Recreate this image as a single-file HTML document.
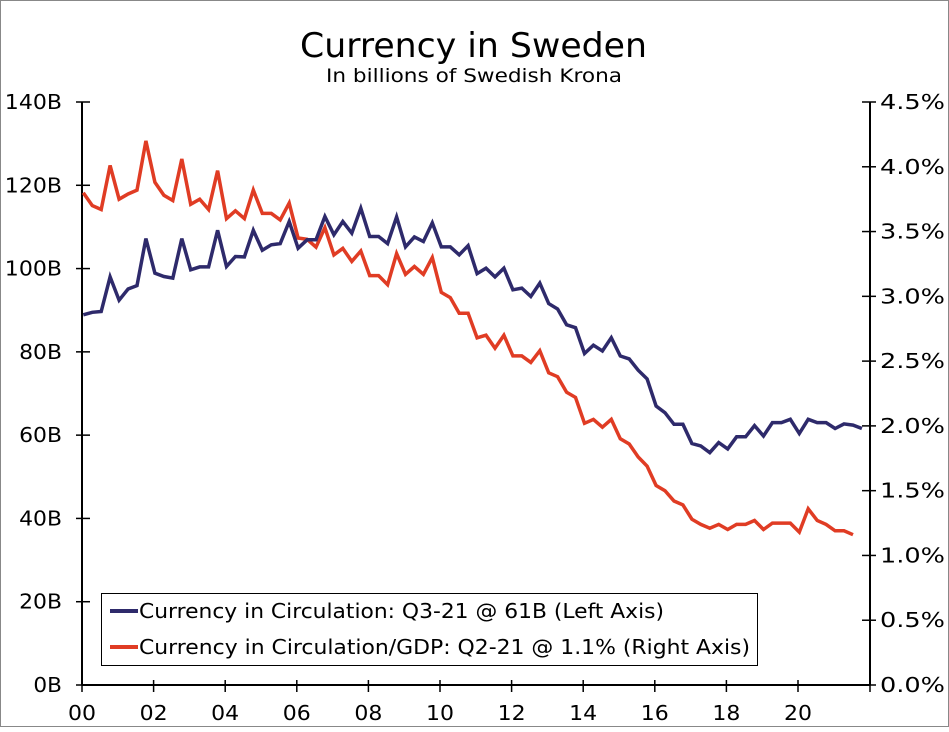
<!DOCTYPE html>
<html><head><meta charset="utf-8"><style>
html,body{margin:0;padding:0;background:#fff}
svg text{font-family:"DejaVu Sans","Liberation Sans",sans-serif;fill:#000}
</style></head><body>
<svg id="chart" width="949" height="727" viewBox="0 0 949 727">
<rect x="0.5" y="0.5" width="948" height="726" fill="#fff" stroke="#888"/>
<text x="300" y="57" font-size="34" textLength="347" lengthAdjust="spacingAndGlyphs">Currency in Sweden</text>
<text x="326" y="82" font-size="19" textLength="296" lengthAdjust="spacingAndGlyphs">In billions of Swedish Krona</text>
<g id="axes"></g>
<g id="series"></g>
<g>
<rect x="101.5" y="593.5" width="656" height="72" fill="#fff" stroke="#000"/>
<line x1="110" y1="611" x2="138" y2="611" stroke="#2e2a6b" stroke-width="4"/>
<text x="139" y="618" font-size="20" textLength="525" lengthAdjust="spacingAndGlyphs">Currency in Circulation: Q3-21 @ 61B (Left Axis)</text>
<line x1="110" y1="647" x2="138" y2="647" stroke="#e03c24" stroke-width="4"/>
<text x="139" y="654" font-size="20" textLength="611" lengthAdjust="spacingAndGlyphs">Currency in Circulation/GDP: Q2-21 @ 1.1% (Right Axis)</text>
</g>
</svg>
<script>
const leftTicks = [0,20,40,60,80,100,120,140];
const leftLabels = ["0B","20B","40B","60B","80B","100B","120B","140B"];
const rightTicks = [0,0.5,1,1.5,2,2.5,3,3.5,4,4.5];
const rightLabels = ["0.0%","0.5%","1.0%","1.5%","2.0%","2.5%","3.0%","3.5%","4.0%","4.5%"];
const yearTicks = [2000,2002,2004,2006,2008,2010,2012,2014,2016,2018,2020];
const yearLabels = ["00","02","04","06","08","10","12","14","16","18","20"];
const startYear = 2000;
const currency = [88.9,89.5,89.7,98.0,92.4,95.1,95.9,107.2,98.9,98.1,97.7,107.2,99.7,100.4,100.4,109.2,100.5,102.9,102.8,109.2,104.4,105.7,106,111.3,104.9,106.9,106.9,112.5,108.1,111.3,108.5,114.5,107.7,107.7,106,112.4,105.2,107.6,106.5,111.0,105.2,105.2,103.3,105.5,98.8,100.1,98.0,100.1,94.9,95.3,93.3,96.5,91.6,90.3,86.5,85.8,79.6,81.6,80.2,83.4,79.0,78.3,75.6,73.5,67.0,65.4,62.6,62.6,58.0,57.4,55.8,58.2,56.7,59.6,59.6,62.3,59.8,63.0,63.0,63.8,60.4,63.8,63.0,63.0,61.6,62.7,62.4,61.6];
const ratioGdp = [3.80,3.70,3.67,4.01,3.75,3.79,3.82,4.20,3.88,3.78,3.74,4.06,3.71,3.75,3.67,3.97,3.60,3.66,3.60,3.82,3.64,3.64,3.59,3.72,3.45,3.44,3.38,3.53,3.32,3.37,3.27,3.35,3.16,3.16,3.09,3.33,3.17,3.23,3.17,3.30,3.03,2.99,2.87,2.87,2.68,2.70,2.60,2.70,2.54,2.54,2.49,2.58,2.41,2.38,2.26,2.22,2.02,2.05,1.99,2.05,1.90,1.86,1.76,1.69,1.54,1.50,1.42,1.39,1.28,1.24,1.21,1.24,1.20,1.24,1.24,1.27,1.20,1.25,1.25,1.25,1.18,1.36,1.27,1.24,1.19,1.19,1.16];

const NS="http://www.w3.org/2000/svg";
const X0=82, X1=870, YT=102, YB=685;
const yearW=35.8;
function xYear(y){return X0+(y-startYear)*yearW;}
function xIdx(i){return xYear(startYear+i/4)+1.3;}
function yL(v){return YB-(v/140)*(YB-YT);}
function yR(v){return YB-(v/4.5)*(YB-YT);}
function mk(tag,attrs,parent){const e=document.createElementNS(NS,tag);for(const k in attrs)e.setAttribute(k,attrs[k]);parent.appendChild(e);return e;}
const ax=document.getElementById('axes');
let e;
e=mk('line',{x1:X0,y1:YT,x2:X0,y2:YB,stroke:'#000','stroke-width':2},ax);


e=mk('line',{x1:X1,y1:YT,x2:X1,y2:YB,stroke:'#000','stroke-width':2},ax);


e=mk('line',{x1:X0,y1:YB,x2:X1,y2:YB,stroke:'#000','stroke-width':2},ax);


leftTicks.forEach((v,i)=>{const y=yL(v);
 mk('line',{x1:X0-6,y1:y,x2:X0+8,y2:y,stroke:'#000','stroke-width':1.5},ax);
 const lab=leftLabels[i];
 const w=lab.length*14.3;
 const t=mk('text',{x:X0-20-w,y:y+7,'font-size':20,textLength:w,lengthAdjust:'spacingAndGlyphs'},ax);t.textContent=lab;
 
 
});
rightTicks.forEach((v,i)=>{const y=yR(v);
 mk('line',{x1:X1-8,y1:y,x2:X1+6,y2:y,stroke:'#000','stroke-width':1.5},ax);
 const t=mk('text',{x:X1+10,y:y+7,'font-size':20,textLength:65,lengthAdjust:'spacingAndGlyphs'},ax);t.textContent=rightLabels[i];
 
 
});
yearTicks.forEach((v,i)=>{const x=xYear(v);
 mk('line',{x1:x,y1:YB-5,x2:x,y2:YB+7,stroke:'#000','stroke-width':1.5},ax);
 const t=mk('text',{x:x-14,y:YB+35,'font-size':20,textLength:28,lengthAdjust:'spacingAndGlyphs'},ax);t.textContent=yearLabels[i];
 
 
});
mk('line',{x1:X1,y1:YB-5,x2:X1,y2:YB+7,stroke:'#000','stroke-width':1.5},ax);
const sg=document.getElementById('series');
const pc=currency.map((v,i)=>xIdx(i).toFixed(1)+','+yL(v).toFixed(1)).join(' ');
const pr=ratioGdp.map((v,i)=>xIdx(i).toFixed(1)+','+yR(v).toFixed(1)).join(' ');
e=mk('polyline',{points:pr,fill:'none',stroke:'#e03c24','stroke-width':3.5,'stroke-linejoin':'miter'},sg);


e=mk('polyline',{points:pc,fill:'none',stroke:'#2e2a6b','stroke-width':3.5,'stroke-linejoin':'miter'},sg);


</script>
</body></html>
